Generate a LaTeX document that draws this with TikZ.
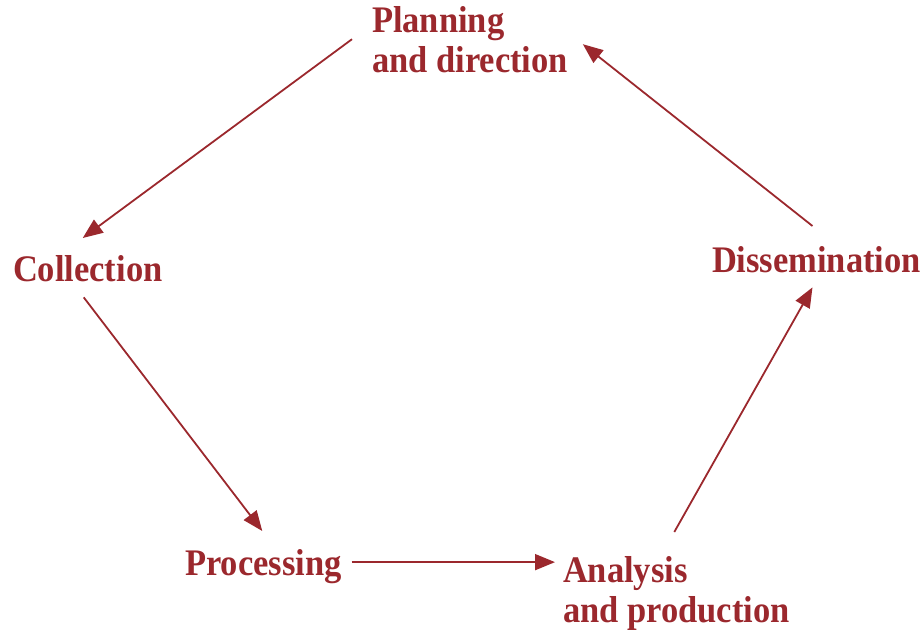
\documentclass[tikz,border=0pt]{standalone}
\usepackage{fontspec}
\setmainfont{Liberation Serif}
\newfontfamily\lblfont[FakeStretch=0.92]{Liberation Serif}
\usetikzlibrary{arrows.meta,calc}
\definecolor{cyc}{RGB}{155,40,45}
\begin{document}
\begin{tikzpicture}[x=1pt,y=-1pt,
  lbl/.style={text=cyc,inner sep=0pt,outer sep=0pt,align=left,
    font=\lblfont\fontsize{37.5pt}{40pt}\selectfont\bfseries},
  flow/.style={draw=cyc,line width=1.8pt,-{Triangle[length=20pt,width=16pt]}}]
\useasboundingbox (0,0) rectangle (921,630);
\node[lbl,anchor=north west] (plan) at (372,6) {Planning\\and direction};
\node[lbl,anchor=base west] (coll) at (13,281) {Collection};
\node[lbl,anchor=base west] (proc) at (185,575) {Processing};
\node[lbl,anchor=north west] (anal) at (563,556) {Analysis\\and production};
\node[lbl,anchor=base west] (diss) at (712,272) {Dissemination};
\coordinate (a1s) at ($(plan.west)+(-20,0)$);
\coordinate (a1e) at ($(coll.north)+(-5,-17)$);
\coordinate (a2s) at ($(coll.south)+(-4,16)$);
\coordinate (a2e) at ($(proc.north)+(-1,-18)$);
\coordinate (a3s) at ($(proc.east)+(10,-4)$);
\coordinate (a3e) at ($(a3s -| anal.west)+(-8,0)$);
\coordinate (a4s) at ($(anal.north)+(-2,-24)$);
\coordinate (a4e) at ($(diss.south)+(-4,15)$);
\coordinate (a5s) at ($(diss.north)+(-4,-20)$);
\coordinate (a5e) at ($(plan.east)+(15,5)$);
\draw[flow] (a1s) -- (a1e);
\draw[flow] (a2s) -- (a2e);
\draw[flow] (a3s) -- (a3e);
\draw[flow] (a4s) -- (a4e);
\draw[flow] (a5s) -- (a5e);
\end{tikzpicture}
\end{document}
